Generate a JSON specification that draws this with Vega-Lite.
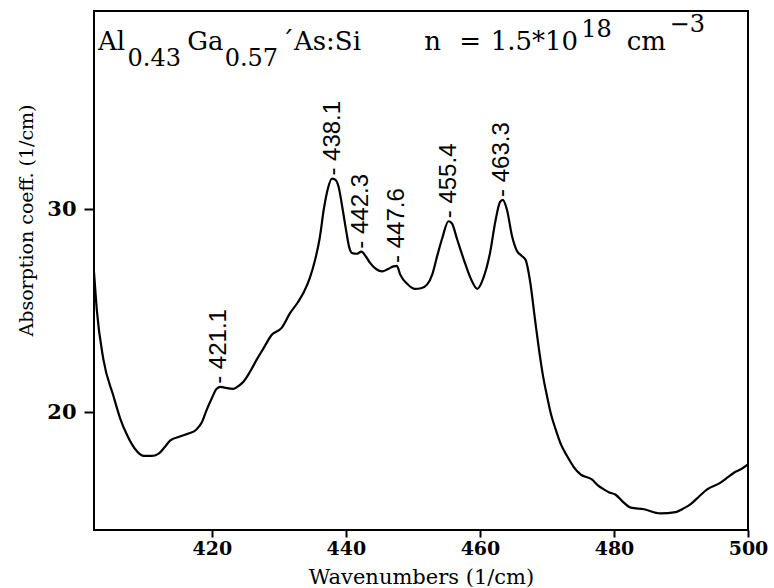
{
  "$schema": "https://vega.github.io/schema/vega-lite/v6.json",
  "width": 654,
  "height": 519,
  "autosize": "none",
  "padding": {"left": 94, "top": 11, "right": 26, "bottom": 58},
  "background": "white",
  "config": {
    "view": {"stroke": "black", "strokeWidth": 2},
    "axis": {"grid": false, "domain": false, "tickColor": "black", "tickWidth": 2, "labelColor": "black", "titleColor": "black"}
  },
  "datasets": {
    "curve": [
      {"wn": 402.4, "a": 26.9}, {"wn": 402.8, "a": 25.1}, {"wn": 403.8, "a": 22.6}, {"wn": 405.3, "a": 20.8},
      {"wn": 406.3, "a": 19.7}, {"wn": 407.3, "a": 18.9}, {"wn": 408.5, "a": 18.2}, {"wn": 409.8, "a": 17.85},
      {"wn": 411.0, "a": 17.85}, {"wn": 412.0, "a": 17.95}, {"wn": 413.0, "a": 18.3}, {"wn": 413.75, "a": 18.6},
      {"wn": 415.2, "a": 18.8}, {"wn": 416.5, "a": 18.95}, {"wn": 417.7, "a": 19.15}, {"wn": 418.5, "a": 19.5},
      {"wn": 419.2, "a": 20.1}, {"wn": 420.0, "a": 20.7}, {"wn": 420.7, "a": 21.15}, {"wn": 421.3, "a": 21.25},
      {"wn": 422.0, "a": 21.2}, {"wn": 423.2, "a": 21.15}, {"wn": 424.0, "a": 21.3}, {"wn": 424.7, "a": 21.5},
      {"wn": 425.7, "a": 22.0}, {"wn": 426.7, "a": 22.6}, {"wn": 427.8, "a": 23.2}, {"wn": 428.9, "a": 23.8},
      {"wn": 430.4, "a": 24.15}, {"wn": 431.7, "a": 24.9}, {"wn": 432.8, "a": 25.4}, {"wn": 433.7, "a": 25.9},
      {"wn": 434.6, "a": 26.6}, {"wn": 435.4, "a": 27.5}, {"wn": 436.1, "a": 28.6}, {"wn": 436.7, "a": 30.0},
      {"wn": 437.3, "a": 31.0}, {"wn": 437.9, "a": 31.5}, {"wn": 438.4, "a": 31.45}, {"wn": 438.9, "a": 31.1},
      {"wn": 439.5, "a": 30.0}, {"wn": 440.1, "a": 28.8}, {"wn": 440.5, "a": 28.1}, {"wn": 440.9, "a": 27.84},
      {"wn": 441.6, "a": 27.8}, {"wn": 442.3, "a": 27.9}, {"wn": 443.0, "a": 27.65}, {"wn": 443.6, "a": 27.35},
      {"wn": 444.5, "a": 27.05}, {"wn": 445.4, "a": 26.93}, {"wn": 446.3, "a": 27.05}, {"wn": 447.1, "a": 27.18},
      {"wn": 447.6, "a": 27.2}, {"wn": 448.1, "a": 26.77}, {"wn": 449.2, "a": 26.3}, {"wn": 450.3, "a": 26.07},
      {"wn": 451.2, "a": 26.1}, {"wn": 452.1, "a": 26.28}, {"wn": 452.9, "a": 26.8}, {"wn": 453.6, "a": 27.67},
      {"wn": 454.4, "a": 28.6}, {"wn": 455.3, "a": 29.4}, {"wn": 455.8, "a": 29.3}, {"wn": 456.6, "a": 28.5},
      {"wn": 457.6, "a": 27.5}, {"wn": 458.6, "a": 26.6}, {"wn": 459.6, "a": 26.07}, {"wn": 460.5, "a": 26.6},
      {"wn": 461.5, "a": 27.84}, {"wn": 462.3, "a": 29.4}, {"wn": 463.0, "a": 30.35}, {"wn": 463.4, "a": 30.45},
      {"wn": 464.0, "a": 30.0}, {"wn": 464.8, "a": 28.65}, {"wn": 465.5, "a": 27.95}, {"wn": 466.2, "a": 27.7},
      {"wn": 466.8, "a": 27.5}, {"wn": 467.5, "a": 26.4}, {"wn": 468.2, "a": 24.6}, {"wn": 468.8, "a": 23.1},
      {"wn": 469.4, "a": 21.8}, {"wn": 470.0, "a": 20.8}, {"wn": 470.6, "a": 19.9}, {"wn": 471.3, "a": 19.15},
      {"wn": 472.1, "a": 18.4}, {"wn": 473.0, "a": 17.84}, {"wn": 474.0, "a": 17.3}, {"wn": 475.0, "a": 16.94},
      {"wn": 476.7, "a": 16.69}, {"wn": 477.6, "a": 16.4}, {"wn": 478.5, "a": 16.2}, {"wn": 479.3, "a": 16.05},
      {"wn": 480.2, "a": 15.95}, {"wn": 481.3, "a": 15.6}, {"wn": 482.5, "a": 15.3}, {"wn": 484.5, "a": 15.22},
      {"wn": 486.9, "a": 15.02}, {"wn": 489.2, "a": 15.08}, {"wn": 490.3, "a": 15.25}, {"wn": 491.4, "a": 15.46},
      {"wn": 492.7, "a": 15.85}, {"wn": 493.9, "a": 16.2}, {"wn": 495.9, "a": 16.53}, {"wn": 497.0, "a": 16.8},
      {"wn": 497.9, "a": 17.02}, {"wn": 499.0, "a": 17.2}, {"wn": 500.0, "a": 17.43}
    ],
    "peaks": [
      {"wn": 421.1, "a": 21.25, "label": "- 421.1"},
      {"wn": 438.1, "a": 31.5, "label": "- 438.1"},
      {"wn": 442.3, "a": 27.9, "label": "- 442.3"},
      {"wn": 447.6, "a": 27.2, "label": "- 447.6"},
      {"wn": 455.4, "a": 29.4, "label": "- 455.4"},
      {"wn": 463.3, "a": 30.45, "label": "- 463.3"}
    ],
    "header": [
      {"wn": 403.0, "part": "Al", "role": "main"},
      {"wn": 407.4, "part": "0.43", "role": "sub"},
      {"wn": 416.3, "part": "Ga", "role": "main"},
      {"wn": 421.9, "part": "0.57", "role": "sub"},
      {"wn": 430.3, "part": "´As:Si", "role": "main"},
      {"wn": 451.7, "part": "n", "role": "main"},
      {"wn": 456.9, "part": "=", "role": "main"},
      {"wn": 461.6, "part": "1.5*10", "role": "main"},
      {"wn": 475.1, "part": "18", "role": "sup"},
      {"wn": 481.9, "part": "cm", "role": "main"},
      {"wn": 488.3, "part": "−3", "role": "sup2"}
    ]
  },
  "layer": [
    {
      "data": {"name": "curve"},
      "mark": {"type": "line", "color": "black", "strokeWidth": 2.2, "interpolate": "monotone", "clip": true},
      "encoding": {
        "x": {
          "field": "wn", "type": "quantitative",
          "scale": {"domain": [402.4, 500], "nice": false, "zero": false},
          "axis": {
            "values": [420, 440, 460, 480, 500], "title": "Wavenumbers (1/cm)",
            "tickSize": 7, "labelFont": "DejaVu Serif", "labelFontWeight": "bold", "labelFontSize": 19,
            "labelPadding": 2, "labelFlush": false, "labelOverlap": false,
            "titleFont": "DejaVu Serif", "titleFontWeight": "normal", "titleFontSize": 21,
            "titleY": 53, "titleBaseline": "alphabetic"
          }
        },
        "y": {
          "field": "a", "type": "quantitative",
          "scale": {"domain": [14.2, 39.75], "nice": false, "zero": false},
          "axis": {
            "values": [20, 30], "title": "Absorption coeff. (1/cm)",
            "tickSize": 10, "labelFont": "DejaVu Serif", "labelFontWeight": "bold", "labelFontSize": 21,
            "labelPadding": 8, "titleFont": "DejaVu Serif", "titleFontWeight": "normal", "titleFontSize": 19,
            "titleX": -68, "titleY": 209, "titleBaseline": "middle", "titleAlign": "center", "titleAngle": 270
          }
        }
      }
    },
    {
      "data": {"name": "peaks"},
      "mark": {"type": "text", "angle": 270, "align": "left", "baseline": "middle", "dx": 3, "font": "Liberation Sans", "fontSize": 24, "color": "black"},
      "encoding": {
        "x": {"field": "wn", "type": "quantitative"},
        "y": {"field": "a", "type": "quantitative"},
        "text": {"field": "label"}
      }
    },
    {
      "data": {"name": "header"},
      "transform": [{"filter": "datum.role === 'main'"}],
      "mark": {"type": "text", "align": "left", "baseline": "alphabetic", "font": "DejaVu Serif", "fontWeight": "normal", "fontSize": 26, "color": "black"},
      "encoding": {
        "x": {"field": "wn", "type": "quantitative"},
        "y": {"datum": 37.85},
        "text": {"field": "part"}
      }
    },
    {
      "data": {"name": "header"},
      "transform": [{"filter": "datum.role === 'sub'"}],
      "mark": {"type": "text", "align": "left", "baseline": "alphabetic", "font": "DejaVu Serif", "fontWeight": "normal", "fontSize": 24, "color": "black"},
      "encoding": {
        "x": {"field": "wn", "type": "quantitative"},
        "y": {"datum": 37.05},
        "text": {"field": "part"}
      }
    },
    {
      "data": {"name": "header"},
      "transform": [{"filter": "datum.role === 'sup'"}],
      "mark": {"type": "text", "align": "left", "baseline": "alphabetic", "font": "DejaVu Serif", "fontWeight": "normal", "fontSize": 24, "color": "black"},
      "encoding": {
        "x": {"field": "wn", "type": "quantitative"},
        "y": {"datum": 38.47},
        "text": {"field": "part"}
      }
    },
    {
      "data": {"name": "header"},
      "transform": [{"filter": "datum.role === 'sup2'"}],
      "mark": {"type": "text", "align": "left", "baseline": "alphabetic", "font": "DejaVu Serif", "fontWeight": "normal", "fontSize": 24, "color": "black"},
      "encoding": {
        "x": {"field": "wn", "type": "quantitative"},
        "y": {"datum": 38.72},
        "text": {"field": "part"}
      }
    }
  ]
}
